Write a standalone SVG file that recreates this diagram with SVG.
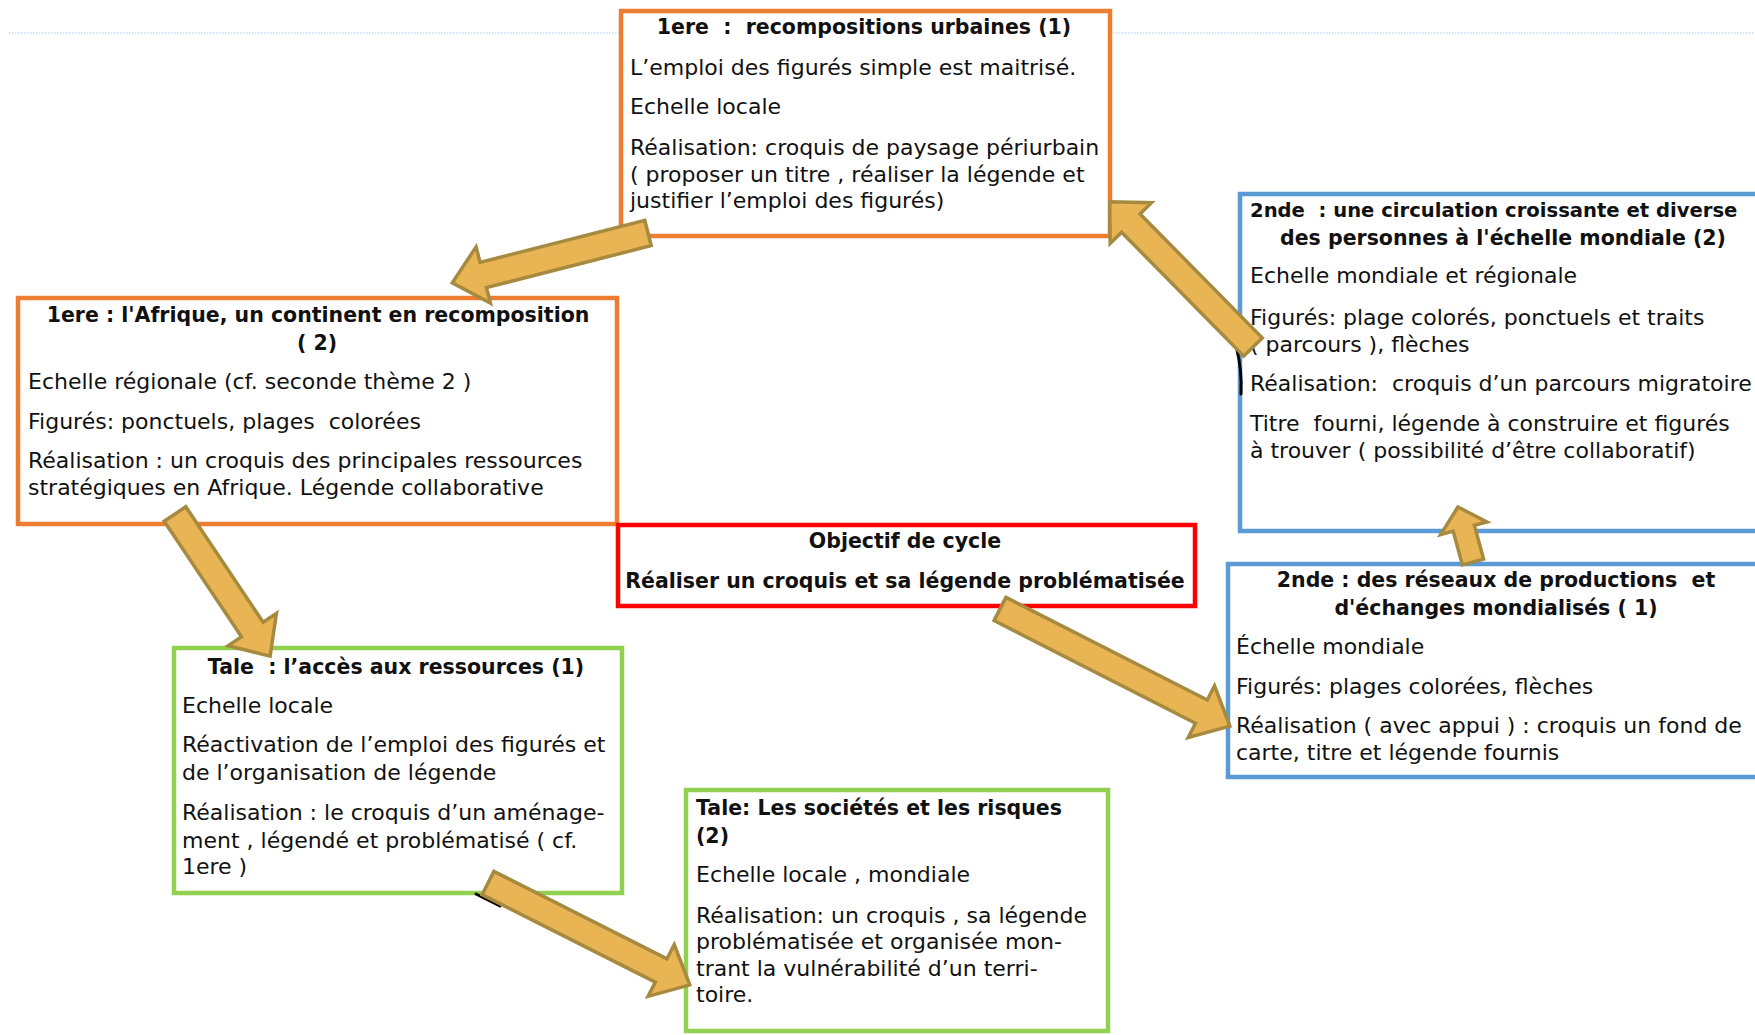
<svg xmlns="http://www.w3.org/2000/svg" width="1755" height="1035" viewBox="0 0 1755 1035">
<style>
.bx{fill:#fff;stroke-width:4.5}
.or{stroke:#ED7D31}.bl{stroke:#5B9BD5}.rd{stroke:#FF0000}.gr{stroke:#92D050}
text{font-family:"Comic Sans MS","DejaVu Sans",sans-serif;fill:#111}
.t{font-size:20.5px;font-weight:bold}
.c{text-anchor:middle}
.b{font-size:22px}
.arr{fill:#E9B554;stroke:#A68A3F;stroke-width:3.5;stroke-linejoin:miter}
.blk{fill:none;stroke:#000;stroke-width:3;stroke-linecap:round}
</style>
<rect width="1755" height="1035" fill="#fff"/>
<line x1="9" y1="33" x2="1755" y2="33" stroke="#A9C8EE" stroke-width="1.2" stroke-dasharray="1.5,1.5"/>
<g id="n1">
<rect class="bx or" x="621" y="11" width="489" height="225"/>
<text class="t c" x="864" y="34" xml:space="preserve">1ere  :  recompositions urbaines (1)</text>
<text class="b" x="630" y="75">L’emploi des figurés simple est maitrisé.</text>
<text class="b" x="630" y="114">Echelle locale</text>
<text class="b" x="630" y="155">Réalisation: croquis de paysage périurbain</text>
<text class="b" x="630" y="182">( proposer un titre , réaliser la légende et</text>
<text class="b" x="630" y="208">justifier l’emploi des figurés)</text>
</g>
<g id="n2">
<rect class="bx or" x="18" y="298" width="599" height="226"/>
<text class="t c" x="318" y="322">1ere : l'Afrique, un continent en recomposition</text>
<text class="t c" x="317" y="350">( 2)</text>
<text class="b" x="28" y="389">Echelle régionale (cf. seconde thème 2 )</text>
<text class="b" x="28" y="429" xml:space="preserve">Figurés: ponctuels, plages  colorées</text>
<text class="b" x="28" y="468">Réalisation : un croquis des principales ressources</text>
<text class="b" x="28" y="495">stratégiques en Afrique. Légende collaborative</text>
</g>
<g id="n3">
<rect class="bx bl" x="1240" y="194" width="530" height="337"/>
<text class="t" x="1250" y="217" style="font-size:19.6px" xml:space="preserve">2nde  : une circulation croissante et diverse</text>
<text class="t c" x="1503" y="245">des personnes à l'échelle mondiale (2)</text>
<text class="b" x="1250" y="283">Echelle mondiale et régionale</text>
<text class="b" x="1250" y="325">Figurés: plage colorés, ponctuels et traits</text>
<text class="b" x="1250" y="352">( parcours ), flèches</text>
<text class="b" x="1250" y="391" xml:space="preserve">Réalisation:  croquis d’un parcours migratoire</text>
<text class="b" x="1250" y="431" xml:space="preserve">Titre  fourni, légende à construire et figurés</text>
<text class="b" x="1250" y="458">à trouver ( possibilité d’être collaboratif)</text>
</g>
<g id="n4">
<rect class="bx rd" x="618" y="525" width="577" height="81"/>
<text class="t c" x="905" y="548">Objectif de cycle</text>
<text class="t c" x="905" y="588">Réaliser un croquis et sa légende problématisée</text>
</g>
<g id="n5">
<rect class="bx bl" x="1228" y="564" width="540" height="213"/>
<text class="t c" x="1496" y="587" xml:space="preserve">2nde : des réseaux de productions  et</text>
<text class="t c" x="1496" y="615">d'échanges mondialisés ( 1)</text>
<text class="b" x="1236" y="654">Échelle mondiale</text>
<text class="b" x="1236" y="694">Figurés: plages colorées, flèches</text>
<text class="b" x="1236" y="733">Réalisation ( avec appui ) : croquis un fond de</text>
<text class="b" x="1236" y="760">carte, titre et légende fournis</text>
</g>
<g id="n6">
<rect class="bx gr" x="174" y="648" width="448" height="245"/>
<text class="t c" x="396" y="674" xml:space="preserve">Tale  : l’accès aux ressources (1)</text>
<text class="b" x="182" y="713">Echelle locale</text>
<text class="b" x="182" y="752">Réactivation de l’emploi des figurés et</text>
<text class="b" x="182" y="780">de l’organisation de légende</text>
<text class="b" x="182" y="820">Réalisation : le croquis d’un aménage-</text>
<text class="b" x="182" y="848">ment , légendé et problématisé ( cf.</text>
<text class="b" x="182" y="874">1ere )</text>
</g>
<g id="n7">
<rect class="bx gr" x="686" y="790" width="422" height="241"/>
<text class="t" x="696" y="815">Tale: Les sociétés et les risques</text>
<text class="t" x="696" y="843">(2)</text>
<text class="b" x="696" y="882">Echelle locale , mondiale</text>
<text class="b" x="696" y="923">Réalisation: un croquis , sa légende</text>
<text class="b" x="696" y="949">problématisée et organisée mon-</text>
<text class="b" x="696" y="976">trant la vulnérabilité d’un terri-</text>
<text class="b" x="696" y="1002">toire.</text>
</g>
<g id="connectors">
<path class="blk" d="M1237,350 Q1242,370 1241,394"/>
<path class="blk" d="M476,894 L500,906"/>
<path class="blk" d="M1196,714 L1210,724"/>
<path class="arr" transform="translate(648,233) rotate(165.7)" d="M0,-13 H170 V-29 L202,0 L170,29 V13 H0 Z"/>
<path class="arr" transform="translate(175,514) rotate(56.2)" d="M0,-13 H139 V-29 L171,0 L139,29 V13 H0 Z"/>
<path class="arr" transform="translate(488,883) rotate(26.8)" d="M0,-13 H194 V-29 L226,0 L194,29 V13 H0 Z"/>
<path class="arr" transform="translate(1000,609) rotate(27)" d="M0,-13 H226 V-29 L258,0 L226,29 V13 H0 Z"/>
<path class="arr" transform="translate(1473,562) rotate(-105.3)" d="M0,-11 H35 V-24 L57,0 L35,24 V11 H0 Z"/>
<path class="arr" transform="translate(1253,347) rotate(-134.6)" d="M0,-13 H174 V-29 L204,0 L174,29 V13 H0 Z"/>
</g>
</svg>
